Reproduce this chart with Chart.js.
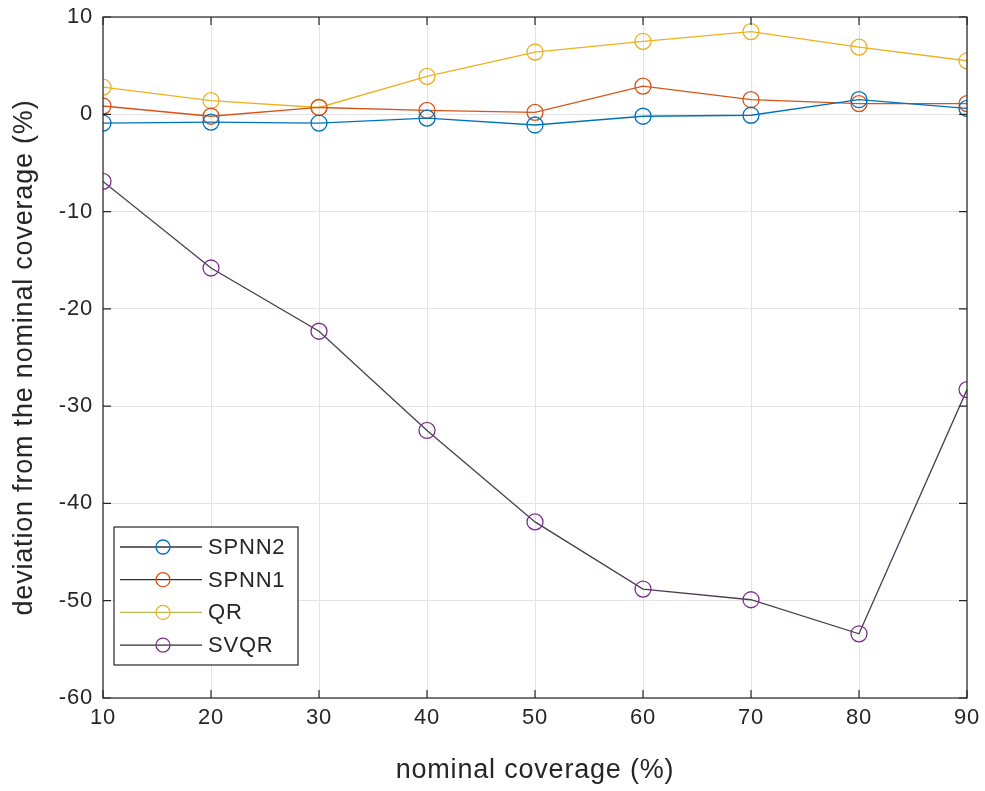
<!DOCTYPE html>
<html>
<head>
<meta charset="utf-8">
<script src="https://cdn.jsdelivr.net/npm/chart.js@4"></script>
<style>
  html, body { margin: 0; padding: 0; background: #fff; }
  #wrap { width: 985px; height: 791px; }
</style>
</head>
<body>
<div id="wrap"><canvas id="chartCanvas" width="985" height="791"></canvas></div>
<script>
// values
const coverage = [10, 20, 30, 40, 50, 60, 70, 80, 90];
const spnn2 = [-0.9, -0.8, -0.9, -0.4, -1.1, -0.2, -0.1, 1.5, 0.6];
const spnn1 = [0.85, -0.2, 0.7, 0.4, 0.2, 2.9, 1.5, 1.1, 1.1];
const qr = [2.8, 1.4, 0.7, 3.9, 6.4, 7.5, 8.5, 6.9, 5.5];
const svqr = [-6.9, -15.8, -22.3, -32.5, -41.9, -48.8, -49.9, -53.4, -28.3];
const seriesNames = ["SPNN2", "SPNN1", "QR", "SVQR"];

const FONT = "'Liberation Sans', Arial, sans-serif";
const SPACING = '0.8px';

function makeSet(label, values, lineColor, markColor, legendLine) {
    return {
        label: label,
        data: coverage.map((x, i) => ({ x: x, y: values[i] })),
        borderColor: lineColor,
        borderWidth: 1.3,
        pointRadius: 8,
        pointHoverRadius: 8,
        pointBorderWidth: 1.3,
        pointBorderColor: markColor,
        pointBackgroundColor: 'rgba(0,0,0,0)',
        legendLine: legendLine,
        fill: false,
        tension: 0
    };
}

// the figure's text is a bit wider spaced than plain Liberation Sans
const spacingPlugin = {
    id: 'spacing',
    beforeUpdate(chart) { chart.ctx.letterSpacing = SPACING; },
    beforeDraw(chart) { chart.ctx.letterSpacing = SPACING; }
};

// MATLAB style box with inward ticks, and the legend in the lower left
const boxPlugin = {
    id: 'box',
    afterDraw(chart) {
        const ctx = chart.ctx;
        const a = chart.chartArea;
        const xs = chart.scales.x, ys = chart.scales.y;
        ctx.save();
        ctx.strokeStyle = '#262626';
        ctx.lineWidth = 1.2;
        ctx.strokeRect(a.left, a.top, a.right - a.left, a.bottom - a.top);
        const t = 8;
        ctx.beginPath();
        xs.ticks.forEach(tk => {
            const px = xs.getPixelForValue(tk.value);
            ctx.moveTo(px, a.bottom); ctx.lineTo(px, a.bottom - t);
            ctx.moveTo(px, a.top); ctx.lineTo(px, a.top + t);
        });
        ys.ticks.forEach(tk => {
            const py = ys.getPixelForValue(tk.value);
            ctx.moveTo(a.left, py); ctx.lineTo(a.left + t, py);
            ctx.moveTo(a.right, py); ctx.lineTo(a.right - t, py);
        });
        ctx.stroke();

        // legend
        const lx = 114, ly = 527, lw = 184, lh = 138;
        ctx.fillStyle = '#fff';
        ctx.fillRect(lx, ly, lw, lh);
        ctx.strokeStyle = '#262626';
        ctx.lineWidth = 1.2;
        ctx.strokeRect(lx, ly, lw, lh);
        ctx.font = '22px ' + FONT;
        ctx.letterSpacing = SPACING;
        ctx.textBaseline = 'middle';
        chart.data.datasets.forEach((ds, i) => {
            const y = ly + 20 + i * 32.7;
            ctx.strokeStyle = ds.legendLine;
            ctx.lineWidth = 1.3;
            ctx.beginPath();
            ctx.moveTo(lx + 6, y); ctx.lineTo(lx + 88, y);
            ctx.stroke();
            ctx.strokeStyle = ds.pointBorderColor;
            ctx.beginPath();
            ctx.arc(lx + 49, y, 7, 0, Math.PI * 2);
            ctx.stroke();
            ctx.fillStyle = '#262626';
            ctx.fillText(ds.label, lx + 94, y + 1);
        });
        ctx.restore();
    }
};

const ctx = document.getElementById("chartCanvas").getContext("2d");
const chart = new Chart(ctx, {
    type: 'line',
    data: {
        datasets: [
            makeSet(seriesNames[0], spnn2, '#0072BD', '#0072BD', '#2f3438'),
            makeSet(seriesNames[1], spnn1, '#D95319', '#D95319', '#3a2e2e'),
            makeSet(seriesNames[2], qr, '#EDB120', '#EDB120', '#b7bb55'),
            makeSet(seriesNames[3], svqr, '#4a3d52', '#7E2F8E', '#2f2f33')
        ]
    },
    options: {
        responsive: false,
        animation: false,
        layout: { padding: { top: 17, right: 18, left: 0, bottom: 0 } },
        plugins: {
            legend: { display: false },
            tooltip: { enabled: false }
        },
        scales: {
            x: {
                type: 'linear',
                min: 10, max: 90,
                ticks: { stepSize: 10, padding: 7, color: '#262626', font: { family: FONT, size: 22 } },
                grid: { color: '#e3e3e3', drawTicks: false },
                border: { display: false },
                title: { display: true, text: 'nominal coverage (%)', color: '#262626', font: { family: FONT, size: 27 }, padding: { top: 0, bottom: 4 } },
                afterFit(scale) {
                    scale.height = 93;
                    scale.paddingLeft = 0;
                    scale.paddingRight = 0;
                }
            },
            y: {
                min: -60, max: 10,
                ticks: { stepSize: 10, padding: 10, color: '#262626', font: { family: FONT, size: 22 } },
                grid: { color: '#e3e3e3', drawTicks: false },
                border: { display: false },
                title: { display: true, text: 'deviation from the nominal coverage (%)', color: '#262626', font: { family: FONT, size: 27 }, padding: { top: 8, bottom: 0 } },
                afterFit(scale) {
                    scale.width = 103;
                    scale.paddingTop = 0;
                    scale.paddingBottom = 0;
                }
            }
        }
    },
    plugins: [spacingPlugin, boxPlugin]
});
</script>
</body>
</html>
